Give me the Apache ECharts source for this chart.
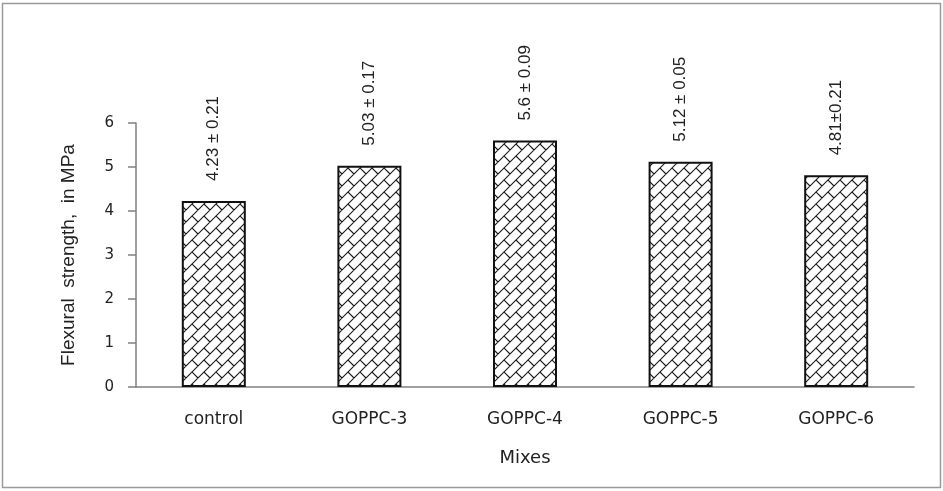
<!DOCTYPE html>
<html>
<head>
<meta charset="utf-8">
<script src="https://cdn.jsdelivr.net/npm/echarts@6/dist/echarts.min.js"></script>
<style>html,body{margin:0;padding:0;background:#fff}#c{width:943px;height:491px}</style>
</head>
<body>
<div id="c"></div>
<script>
const categories = ["control", "GOPPC-3", "GOPPC-4", "GOPPC-5", "GOPPC-6"];
const strength = [4.23, 5.03, 5.6, 5.12, 4.81];
const valueLabels = ["4.23 ± 0.21", "5.03 ± 0.17", "5.6 ± 0.09", "5.12 ± 0.05", "4.81±0.21"];
const yTicks = [0, 1, 2, 3, 4, 5, 6];

function makePattern() {
  const H = 12, W = 24;
  const c = document.createElement('canvas');
  c.width = W; c.height = H;
  const g = c.getContext('2d');
  g.fillStyle = '#ffffff';
  g.fillRect(0, 0, W, H);
  g.strokeStyle = '#1a1a1a';
  g.lineWidth = 1.1;
  g.beginPath();
  for (let cc = -24; cc <= 60; cc += 12) {
    g.moveTo(cc + 12, -12);
    g.lineTo(cc - 24, 24);
  }
  for (let k = -4; k <= 6; k++) {
    const c0 = 12 * k, c1 = c0 + 12;
    for (let m = -4; m <= 4; m++) {
      const d = -12 * k + 24 * m;
      g.moveTo((d + c0) / 2, (c0 - d) / 2);
      g.lineTo((d + c1) / 2, (c1 - d) / 2);
    }
  }
  g.stroke();
  return c;
}

const chart = echarts.init(document.getElementById('c'));
chart.setOption({
  backgroundColor: '#ffffff',
  animation: false,
  graphic: [{
    type: 'rect',
    z: -1,
    shape: { x: 2.5, y: 3.5, width: 938, height: 484 },
    style: { fill: 'none', stroke: '#9a9a9a', lineWidth: 1.5 }
  }],
  grid: { left: 136, right: 29, top: 123, bottom: 104 },
  xAxis: {
    type: 'category',
    data: categories,
    name: 'Mixes',
    nameLocation: 'middle',
    nameGap: 62,
    nameTextStyle: { fontFamily: 'DejaVu Sans', fontSize: 18, color: '#222' },
    axisLine: { lineStyle: { color: '#808080', width: 1.5 } },
    axisTick: { show: false },
    axisLabel: { margin: 24, fontFamily: 'DejaVu Sans', fontSize: 17, color: '#222' }
  },
  yAxis: {
    type: 'value',
    min: yTicks[0],
    max: yTicks[yTicks.length - 1],
    interval: 1,
    name: 'Flexural  strength,  in MPa',
    nameLocation: 'middle',
    nameGap: 58,
    nameTextStyle: { fontFamily: 'Liberation Sans', fontSize: 19, color: '#222' },
    axisLine: { show: true, lineStyle: { color: '#808080', width: 1.5 } },
    axisTick: { show: true, length: 8, lineStyle: { color: '#808080', width: 1.5 } },
    axisLabel: { margin: 22, fontFamily: 'DejaVu Sans', fontSize: 15, color: '#222' },
    splitLine: { show: false }
  },
  series: [{
    type: 'bar',
    data: strength,
    barWidth: 64,
    itemStyle: {
      color: { image: makePattern(), repeat: 'repeat' },
      borderColor: '#111',
      borderWidth: 2
    },
    label: {
      show: true,
      position: 'top',
      rotate: 90,
      align: 'left',
      verticalAlign: 'middle',
      distance: 20,
      fontFamily: 'Liberation Sans',
      fontSize: 17,
      color: '#222',
      formatter: p => valueLabels[p.dataIndex]
    }
  }]
});
</script>
</body>
</html>
